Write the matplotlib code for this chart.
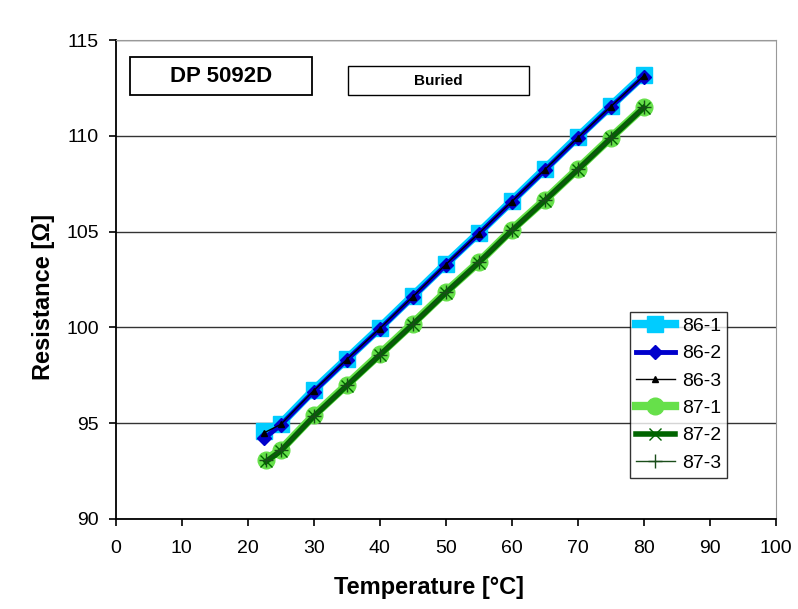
import matplotlib
matplotlib.use("Agg")
import matplotlib.pyplot as plt
from matplotlib.patches import Rectangle

plt.rcParams['font.family'] = ['Liberation Sans', 'DejaVu Sans']

temps = [22.5, 25, 30, 35, 40, 45, 50, 55, 60, 65, 70, 75, 80]
r86_1 = [94.6, 94.96, 96.73, 98.35, 99.97, 101.64, 103.31, 104.93, 106.6, 108.27, 109.94, 111.56, 113.17]
r86_2 = [94.2, 94.9, 96.65, 98.3, 99.9, 101.58, 103.25, 104.88, 106.55, 108.2, 109.87, 111.5, 113.1]
r86_3 = [94.5, 94.93, 96.7, 98.32, 99.94, 101.6, 103.28, 104.9, 106.57, 108.23, 109.9, 111.53, 113.13]
temps87 = [22.8, 25, 30, 35, 40, 45, 50, 55, 60, 65, 70, 75, 80]
r87_1 = [93.1, 93.6, 95.4, 97.0, 98.6, 100.2, 101.85, 103.4, 105.1, 106.65, 108.27, 109.9, 111.5]
r87_2 = [93.0, 93.55, 95.35, 96.95, 98.55, 100.15, 101.8, 103.38, 105.05, 106.62, 108.23, 109.87, 111.47]
r87_3 = [93.05, 93.58, 95.38, 96.98, 98.58, 100.18, 101.83, 103.4, 105.08, 106.64, 108.25, 109.88, 111.49]

fig = plt.figure(figsize=(7.98, 6.09), dpi=100)
ax = fig.add_axes([0.145, 0.148, 0.827, 0.786])

ax.plot(temps, r86_1, color="#00ccff", lw=6, marker="s", ms=12, label="86-1", zorder=3)
ax.plot(temps, r86_2, color="#0000cc", lw=3.5, marker="D", ms=7, label="86-2", zorder=4)
ax.plot(temps, r86_3, color="black", lw=1, marker="^", ms=4, label="86-3", zorder=5)
ax.plot(temps87, r87_1, color="#66e04a", lw=6, marker="o", ms=12, label="87-1", zorder=3)
ax.plot(temps87, r87_2, color="#006400", lw=4, marker="x", ms=9, mew=1, label="87-2", zorder=4)
ax.plot(temps87, r87_3, color="#1a4d1a", lw=1, marker="+", ms=10, mew=1, label="87-3", zorder=5)

ax.set_xlim(0, 100)
ax.set_ylim(90, 115)
ax.set_xticks(range(0, 101, 10))
ax.set_yticks(range(90, 116, 5))
ax.tick_params(labelsize=14, direction="out", length=5, width=1.2, pad=7)
ax.tick_params(axis="x", pad=10)
ax.yaxis.grid(True, color="#333333", lw=1)
ax.set_axisbelow(True)
for s in ["left", "bottom"]:
    ax.spines[s].set_linewidth(1.3)
for s in ["top", "right"]:
    ax.spines[s].set_color("#999999")
ax.set_xlabel("Temperature [°C]", fontsize=17, fontweight="bold", labelpad=14, x=0.474)
ax.set_ylabel("Resistance [Ω]", fontsize=17, fontweight="bold", labelpad=8, y=0.463)

ax.add_patch(Rectangle((0.021, 0.885), 0.276, 0.0795, transform=ax.transAxes,
                       fc="white", ec="black", lw=1.3, zorder=6))
ax.text(0.159, 0.925, "DP 5092D", transform=ax.transAxes, ha="center", va="center",
        fontsize=16, fontweight="bold", zorder=7)
ax.add_patch(Rectangle((0.3515, 0.885), 0.2755, 0.0607, transform=ax.transAxes,
                       fc="white", ec="black", lw=1, zorder=6))
ax.text(0.489, 0.915, "Buried", transform=ax.transAxes, ha="center", va="center",
        fontsize=11, fontweight="bold", zorder=7)

leg = ax.legend(loc="upper right", bbox_to_anchor=(0.927, 0.433), fontsize=14, frameon=True,
                fancybox=False, edgecolor="black", handlelength=2.0, borderpad=0.3,
                labelspacing=0.5, handletextpad=0.4, borderaxespad=0)
leg.get_frame().set_linewidth(1)

fig.savefig("out.png", dpi=100)
